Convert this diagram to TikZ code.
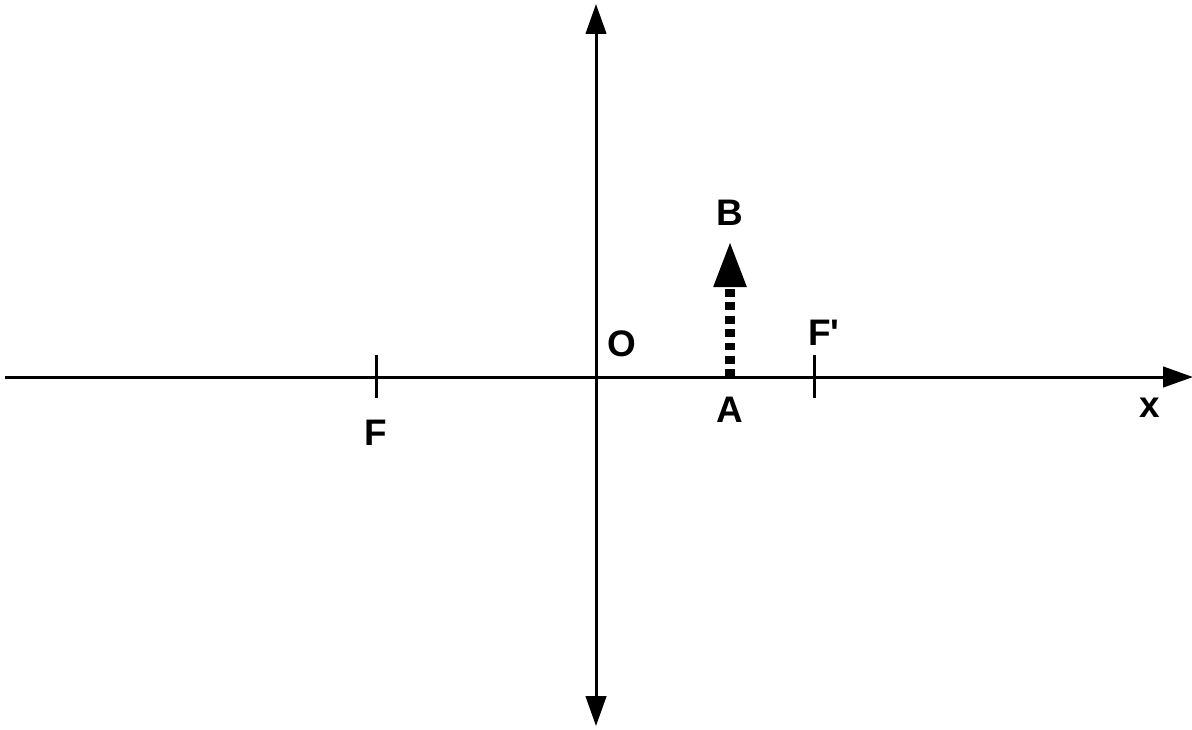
\documentclass[tikz,border=0pt]{standalone}
\usepackage{fontspec}
\setmainfont{Liberation Sans}[Ligatures=TeXOff]
\usetikzlibrary{arrows.meta}
\begin{document}
\begin{tikzpicture}[x=0.01cm,y=-0.01cm,
  axis/.style={line width=0.85pt,-{Triangle[length=8.5pt,width=5.8pt]}},
  tick/.style={line width=0.85pt},
  lbl/.style={font=\fontsize{10.5}{12}\selectfont\bfseries,inner sep=0pt},
  obj/.style={line width=2.6pt,dash pattern=on 2.2pt off 1.6pt,-{Triangle[length=13pt,width=8.8pt]},shorten >=-1pt}]
\useasboundingbox (0,0) rectangle (1192,729);
\coordinate (xl) at (5,377);
\coordinate (xr) at (1193,377);
\coordinate (lt) at (596,4);
\coordinate (lb) at (596,726);
\coordinate (A) at (730,377);
\coordinate (B) at (730,245);
\coordinate (Ft) at (376,355);
\coordinate (Fb) at (376,398);
\coordinate (Fpt) at (814,355);
\coordinate (Fpb) at (814,398);
\draw[axis] (xl) -- (xr);
\draw[axis,{Triangle[length=8.5pt,width=5.8pt]}-{Triangle[length=8.5pt,width=5.8pt]}] (lt) -- (lb);
\draw[tick] (Ft) -- (Fb);
\draw[tick] (Fpt) -- (Fpb);
\draw[obj] (A) -- (B);
\node[lbl] (lF) at (376,433) {F};
\node[lbl] (lFp) at (824,333) {F'};
\node[lbl] (lO) at (622,344) {O};
\node[lbl] (lA) at (730,410) {A};
\node[lbl] (lB) at (730,213) {B};
\node[lbl] (lx) at (1150,408) {x};
\end{tikzpicture}
\end{document}
